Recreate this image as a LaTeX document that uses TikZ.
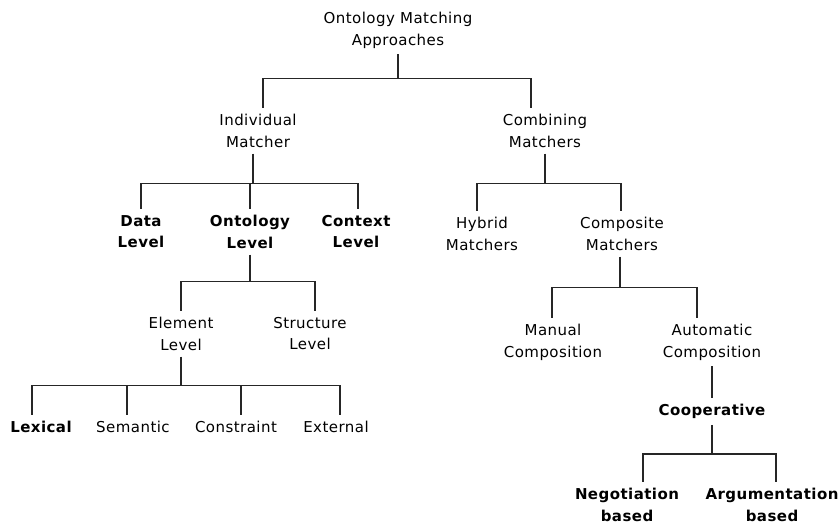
\documentclass[tikz,border=0pt]{standalone}
\usepackage{fontspec}
\setmainfont[LetterSpace=3]{DejaVu Sans}
\usetikzlibrary{positioning}
\tikzset{
  item/.style={align=center, anchor=north, inner xsep=1pt, inner ysep=6pt,
               font=\fontsize{15}{21.5}\selectfont},
  key/.style={item, font=\fontsize{15}{21.5}\selectfont\bfseries},
  branch/.style={draw=black!85, line width=1.2pt},
}

\begin{document}
\begin{tikzpicture}[x=1pt, y=-1pt]
\useasboundingbox (0,0) rectangle (840,526);

% levels of the tree
\node[item] (root) at (398,6) {Ontology Matching\\Approaches};
\node[item] (indiv) at (258,108) {Individual\\Matcher};
\node[item] (comb) at (545,108) {Combining\\Matchers};
\node[key] (data) at (141,209) {Data\\Level};
\node[key] (onto) at (250,209) {Ontology\\Level};
\node[key] (ctx) at (356,209) {Context\\Level};
\node[item] (hybrid) at (482,211) {Hybrid\\Matchers};
\node[item] (compo) at (622,211) {Composite\\Matchers};
\node[item] (elem) at (181,311) {Element\\Level};
\node[item] (struct) at (310,311) {Structure\\Level};
\node[key] (lex) at (41,415) {Lexical};
\node[item] (sem) at (133,415) {Semantic};
\node[item] (constr) at (236,415) {Constraint};
\node[item] (ext) at (336,415) {External};
\node[item] (manual) at (553,318) {Manual\\Composition};
\node[item] (auto) at (712,318) {Automatic\\Composition};
\node[key] (coop) at (712,398) {Cooperative};
\node[key] (nego) at (627,482) {Negotiation\\based};
\node[key] (argu) at (772,482) {Argumentation\\based};

% connectors
\draw[branch] (root.south) -- ++(0,24) coordinate (rootbus);
\draw[branch] (rootbus) -| ([xshift=5pt]indiv.north);
\draw[branch] (rootbus) -| ([xshift=-14pt]comb.north);

\draw[branch] ([xshift=-5pt]indiv.south) -- ++(0,30) coordinate (indivbus);
\draw[branch] (indivbus) -| (data.north);
\draw[branch] (indivbus) -| (onto.north);
\draw[branch] (indivbus) -| ([xshift=2pt]ctx.north);

\draw[branch] (comb.south) -- ++(0,30) coordinate (combbus);
\draw[branch] (combbus) -| ([xshift=-5pt]hybrid.north);
\draw[branch] (combbus) -| ([xshift=-1pt]compo.north);

\draw[branch] (onto.south) -- ++(0,27) coordinate (ontobus);
\draw[branch] (ontobus) -| (elem.north);
\draw[branch] (ontobus) -| ([xshift=5pt]struct.north);

\draw[branch] (elem.south) -- ++(0,29) coordinate (elembus);
\draw[branch] (elembus) -| ([xshift=-9pt]lex.north);
\draw[branch] (elembus) -| ([xshift=-6pt]sem.north);
\draw[branch] (elembus) -| ([xshift=5pt]constr.north);
\draw[branch] (elembus) -| ([xshift=4pt]ext.north);

\draw[branch] ([xshift=-2pt]compo.south) -- ++(0,31) coordinate (compobus);
\draw[branch] (compobus) -| ([xshift=-1pt]manual.north);
\draw[branch] (compobus) -| ([xshift=-15pt]auto.north);

\draw[branch] (auto.south) -- (coop.north);

\draw[branch] (coop.south) -- ++(0,29) coordinate (coopbus);
\draw[branch] (coopbus) -| ([xshift=16pt]nego.north);
\draw[branch] (coopbus) -| ([xshift=4pt]argu.north);
\end{tikzpicture}
\end{document}
